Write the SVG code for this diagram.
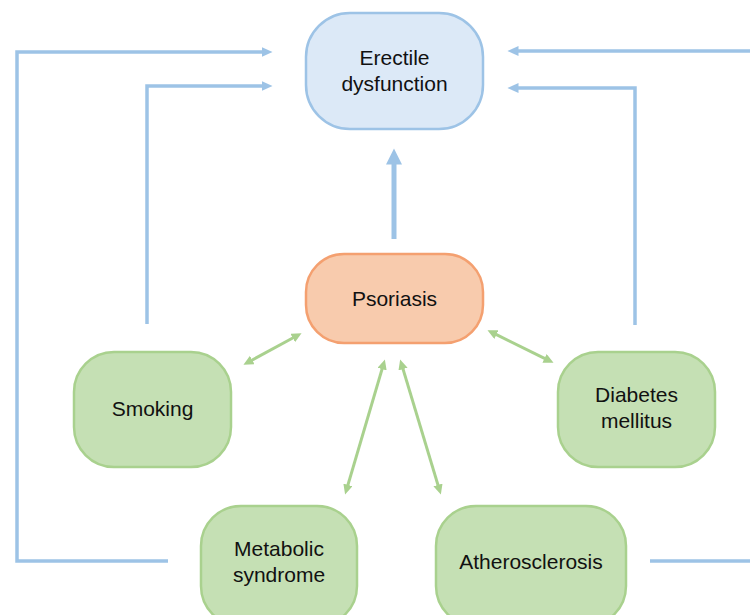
<svg xmlns="http://www.w3.org/2000/svg" width="750" height="615" viewBox="0 0 750 615">
<style>
.t{font-family:"Liberation Sans",Arial,sans-serif;font-size:21px;fill:#111;text-anchor:middle}
.blue{fill:none;stroke:#9dc3e6;stroke-width:3.5;stroke-linejoin:miter}
.green{fill:none;stroke:#a9d18e;stroke-width:3}
.gnode{fill:#c5e0b4;stroke:#a9d18e;stroke-width:2.5}
</style>
<defs>
<marker id="ab" markerUnits="userSpaceOnUse" markerWidth="12" markerHeight="10" refX="0.5" refY="5" orient="auto"><path d="M0,0 L11,5 L0,10 z" fill="#9dc3e6"/></marker>
<marker id="abig" markerUnits="userSpaceOnUse" markerWidth="17" markerHeight="16" refX="0.5" refY="8" orient="auto"><path d="M0,0 L16,8 L0,16 z" fill="#9dc3e6"/></marker>
<marker id="ag" markerUnits="userSpaceOnUse" markerWidth="11" markerHeight="10" refX="0.5" refY="4.75" orient="auto-start-reverse"><path d="M0,0 L10,4.75 L0,9.5 z" fill="#a9d18e"/></marker>
</defs>
<g id="connectors">
<polyline class="blue" points="168,561 17,561 17,52 262,52" marker-end="url(#ab)"/>
<polyline class="blue" points="147,324 147,86 262,86" marker-end="url(#ab)"/>
<polyline class="blue" points="750,51 518,51" marker-end="url(#ab)"/>
<polyline class="blue" points="635,325 635,88 518,88" marker-end="url(#ab)"/>
<line class="blue" x1="650" y1="561" x2="750" y2="561"/>
<line class="blue" style="stroke-width:5" x1="394" y1="239" x2="394" y2="164" marker-end="url(#abig)"/>
<line class="green" x1="251.8" y1="360.2" x2="293.2" y2="337.8" marker-start="url(#ag)" marker-end="url(#ag)"/>
<line class="green" x1="496" y1="334.4" x2="545" y2="358.6" marker-start="url(#ag)" marker-end="url(#ag)"/>
<line class="green" x1="382.2" y1="368.6" x2="347.8" y2="485.4" marker-start="url(#ag)" marker-end="url(#ag)"/>
<line class="green" x1="402.9" y1="368.6" x2="438.1" y2="485.4" marker-start="url(#ag)" marker-end="url(#ag)"/>
</g>
<g id="erectile-dysfunction">
<rect x="306" y="13" width="177" height="116" rx="44" ry="44" fill="#dce9f7" stroke="#9dc3e6" stroke-width="2.5"/>
<text class="t" x="394.5" y="65">Erectile</text>
<text class="t" x="394.5" y="91">dysfunction</text>
</g>
<g id="psoriasis">
<rect x="306" y="254" width="177" height="89" rx="38" ry="38" fill="#f8cbad" stroke="#f4a070" stroke-width="2.5"/>
<text class="t" x="394.5" y="306">Psoriasis</text>
</g>
<g id="smoking">
<rect class="gnode" x="74" y="352" width="157" height="115" rx="40" ry="40"/>
<text class="t" x="152.5" y="416">Smoking</text>
</g>
<g id="diabetes-mellitus">
<rect class="gnode" x="558" y="352" width="157" height="115" rx="40" ry="40"/>
<text class="t" x="636.5" y="402">Diabetes</text>
<text class="t" x="636.5" y="428">mellitus</text>
</g>
<g id="metabolic-syndrome">
<rect class="gnode" x="201" y="506" width="156" height="120" rx="40" ry="40"/>
<text class="t" x="279" y="556">Metabolic</text>
<text class="t" x="279" y="582">syndrome</text>
</g>
<g id="atherosclerosis">
<rect class="gnode" x="436" y="506" width="190" height="120" rx="40" ry="40"/>
<text class="t" x="531" y="568.5">Atherosclerosis</text>
</g>
</svg>
